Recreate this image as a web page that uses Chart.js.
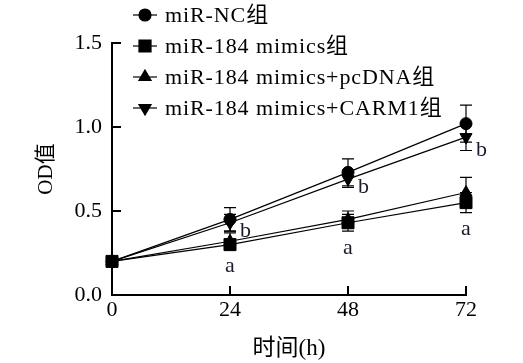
<!DOCTYPE html>
<html>
<head>
<meta charset="utf-8">
<script src="https://cdn.jsdelivr.net/npm/chart.js@4"></script>
<style>
  html, body { margin: 0; padding: 0; background: #fff; }
  #wrap { width: 523px; height: 363px; }
</style>
</head>
<body>
<div id="wrap"><canvas id="chart"></canvas></div>
<script>
// time points (h)
const hours = [0, 24, 48, 72];
const yTicks = [0, 0.5, 1.0, 1.5];

// series names
const seriesNames = ['miR-NC组', 'miR-184 mimics组', 'miR-184 mimics+pcDNA组', 'miR-184 mimics+CARM1组'];

// OD values
const ncValues = [0.20, 0.45, 0.73, 1.02];
const mimicsValues = [0.20, 0.30, 0.43, 0.55];
const pcdnaValues = [0.20, 0.32, 0.45, 0.61];
const carm1Values = [0.20, 0.43, 0.69, 0.94];

// error bars (+/-)
const ncErr = [0.02, 0.07, 0.08, 0.11];
const mimicsErr = [0.02, 0.03, 0.05, 0.06];
const pcdnaErr = [0.02, 0.05, 0.05, 0.09];
const carm1Err = [0.02, 0.05, 0.05, 0.08];

// significance letters at 24/48/72 h
const sigUpper = ['', 'b', 'b', 'b'];
const sigLower = ['', 'a', 'a', 'a'];

const serif = "'Liberation Serif', 'Times New Roman', 'Noto Sans CJK SC', serif";

const seriesValues = [ncValues, mimicsValues, pcdnaValues, carm1Values];
const seriesErrors = [ncErr, mimicsErr, pcdnaErr, carm1Err];
const pointStyles = ['circle', 'rect', 'triangle', 'triangle'];
const pointRotations = [0, 0, 0, 180];
const pointRadii = [6, 8.5, 7, 7];

const datasets = seriesValues.map((vals, i) => ({
    label: seriesNames[i],
    data: hours.map((h, j) => ({ x: h, y: vals[j] })),
    errors: seriesErrors[i],
    borderColor: '#000',
    backgroundColor: '#000',
    borderWidth: 1.2,
    pointStyle: pointStyles[i],
    rotation: pointRotations[i],
    pointRadius: pointRadii[i],
    pointBorderWidth: 1,
    tension: 0,
    clip: false
}));

// error bars, inward ticks, letters and legend
const extrasPlugin = {
    id: 'extras',
    beforeDatasetsDraw(chart) {
        const ctx = chart.ctx;
        const xs = chart.scales.x, ys = chart.scales.y;
        ctx.save();
        ctx.strokeStyle = '#000';
        ctx.lineWidth = 1.2;
        chart.data.datasets.forEach(ds => {
            ds.data.forEach((p, j) => {
                const e = ds.errors[j];
                const px = xs.getPixelForValue(p.x);
                const top = ys.getPixelForValue(p.y + e);
                const bot = ys.getPixelForValue(p.y - e);
                ctx.beginPath();
                ctx.moveTo(px, top); ctx.lineTo(px, bot);
                ctx.moveTo(px - 6, top); ctx.lineTo(px + 6, top);
                ctx.moveTo(px - 6, bot); ctx.lineTo(px + 6, bot);
                ctx.stroke();
            });
        });
        ctx.restore();
    },
    afterDraw(chart) {
        const ctx = chart.ctx;
        const xs = chart.scales.x, ys = chart.scales.y;
        const area = chart.chartArea;
        ctx.save();
        // inward tick marks
        ctx.strokeStyle = '#000';
        ctx.lineWidth = 2;
        ctx.beginPath();
        yTicks.slice(1).forEach(v => {
            const py = Math.round(ys.getPixelForValue(v));
            ctx.moveTo(area.left, py); ctx.lineTo(area.left + 9, py);
        });
        hours.slice(1).forEach(h => {
            const px = Math.round(xs.getPixelForValue(h));
            ctx.moveTo(px, area.bottom); ctx.lineTo(px, area.bottom - 9);
        });
        ctx.stroke();

        // significance letters
        ctx.fillStyle = '#1a1a2a';
        ctx.font = '22px ' + serif;
        ctx.textBaseline = 'middle';
        hours.forEach((h, j) => {
            const px = xs.getPixelForValue(h);
            if (sigUpper[j]) {
                ctx.textAlign = 'left';
                ctx.fillText(sigUpper[j], px + 10, ys.getPixelForValue(carm1Values[j] - carm1Err[j]));
            }
            if (sigLower[j]) {
                ctx.textAlign = 'center';
                ctx.fillText(sigLower[j], px, ys.getPixelForValue(mimicsValues[j] - mimicsErr[j]) + 17);
            }
        });

        // legend
        ctx.font = '22px ' + serif;
        ctx.letterSpacing = '0.9px';
        ctx.textAlign = 'left';
        ctx.fillStyle = '#000';
        chart.data.datasets.forEach((ds, i) => {
            const ly = 15 + i * 31;
            ctx.beginPath();
            ctx.lineWidth = 1.2;
            ctx.moveTo(133, ly); ctx.lineTo(157, ly);
            ctx.stroke();
            Chart.helpers.drawPoint(ctx, {
                pointStyle: ds.pointStyle,
                rotation: ds.rotation,
                radius: ds.pointRadius,
                borderWidth: 1
            }, 145, ly);
            ctx.fill();
            ctx.fillText(ds.label, 165, ly + 1);
        });
        ctx.restore();
    }
};

new Chart(document.getElementById('chart'), {
    type: 'line',
    data: { datasets: datasets },
    plugins: [extrasPlugin],
    options: {
        responsive: true,
        maintainAspectRatio: false,
        animation: false,
        layout: { padding: { left: 0, top: 43, right: 57, bottom: 0 } },
        plugins: {
            legend: { display: false },
            tooltip: { enabled: false }
        },
        scales: {
            x: {
                type: 'linear',
                min: 0,
                max: 72,
                afterBuildTicks: s => { s.ticks = hours.map(v => ({ value: v })); },
                afterFit: s => { s.height = 68; },
                grid: { display: false, drawTicks: false },
                border: { display: true, color: '#000', width: 2 },
                ticks: { color: '#000', padding: 2, font: { family: serif, size: 22 } },
                title: {
                    display: true,
                    text: '时间(h)',
                    color: '#000',
                    padding: { top: 6, bottom: 0 },
                    font: { family: serif, size: 23 }
                }
            },
            y: {
                min: 0,
                max: 1.5,
                afterBuildTicks: s => { s.ticks = yTicks.map(v => ({ value: v })); },
                afterFit: s => { s.width = 112; },
                grid: { display: false, drawTicks: false },
                border: { display: true, color: '#000', width: 2 },
                ticks: {
                    color: '#000',
                    padding: 10,
                    font: { family: serif, size: 22 },
                    callback: v => v.toFixed(1)
                },
                title: {
                    display: true,
                    text: 'OD值',
                    color: '#000',
                    padding: { top: 34, bottom: 0 },
                    font: { family: serif, size: 21 }
                }
            }
        }
    }
});
</script>
</body>
</html>
